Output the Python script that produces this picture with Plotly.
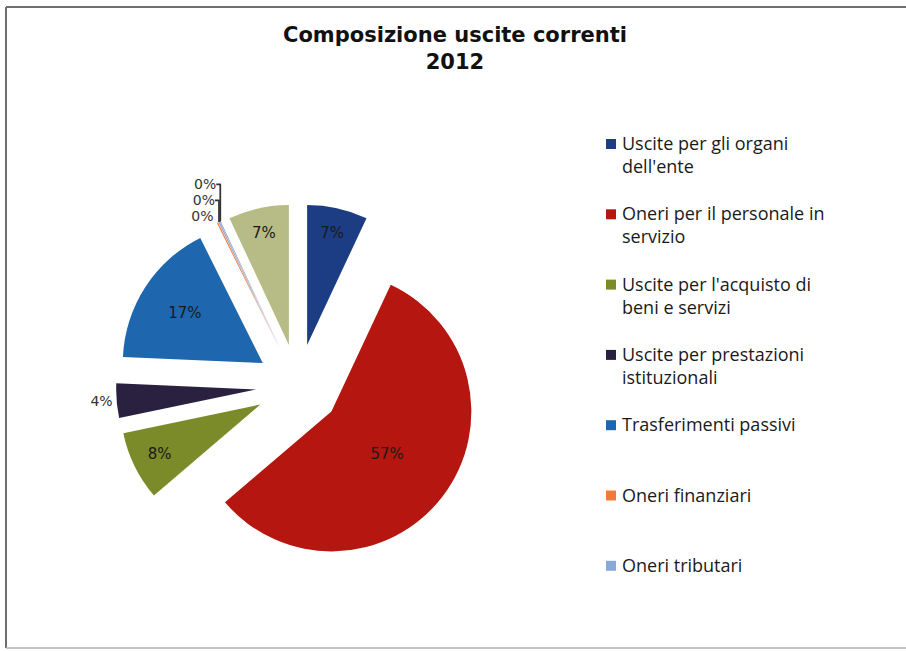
import plotly.graph_objects as go

# ---------------- data ----------------
CATEGORIES = [
    "Uscite per gli organi dell'ente",
    "Oneri per il personale in servizio",
    "Uscite per l'acquisto di beni e servizi",
    "Uscite per prestazioni istituzionali",
    "Trasferimenti passivi",
    "Oneri finanziari",
    "Oneri tributari",
    "Poste correttive e compensative di entrate correnti",
    "Uscite non classificabili in altre voci",
]
VALUES = [7.0, 57.0, 8.0, 4.0, 17.0, 0.15, 0.15, 0.1, 7.0]
COLORS = ["#1c3d84", "#b5160f", "#7b8b2a", "#2a2140", "#1e66ad",
          "#f07c3a", "#86a9d9", "#9d92b8", "#b7bb86"]
TEXT_POS = ["inside", "inside", "inside", "outside", "inside",
            "outside", "outside", "outside", "inside"]
LEGEND_LABELS = [
    "Uscite per gli organi<br>dell'ente",
    "Oneri per il personale in<br>servizio",
    "Uscite per l'acquisto di<br>beni e servizi",
    "Uscite per prestazioni<br>istituzionali",
    "Trasferimenti passivi",
    "Oneri finanziari",
    "Oneri tributari",
]
TITLE = "Composizione uscite correnti<br>2012"

W, H = 906, 651

fig = go.Figure(go.Pie(
    labels=CATEGORIES,
    values=VALUES,
    sort=False,
    direction="clockwise",
    rotation=0,
    pull=[0.3] * len(VALUES),
    marker=dict(colors=COLORS, line=dict(width=0)),
    textinfo="percent",
    texttemplate="%{percent:.0%}",
    textposition=TEXT_POS,
    insidetextorientation="horizontal",
    insidetextfont=dict(family="DejaVu Sans", size=15, color="#1a1a1a"),
    outsidetextfont=dict(family="DejaVu Sans", size=14, color="#333333"),
    domain=dict(x=[0.1280, 0.5298], y=[0.1276, 0.6866]),
    showlegend=False,
    hoverinfo="label+percent",
))

# manual legend (only the visible entries)
LEG_TOP = 143
LEG_STEP = 70.3
shapes = []
annotations = []
for i, lab in enumerate(LEGEND_LABELS):
    cy = LEG_TOP + i * LEG_STEP
    shapes.append(dict(type="rect", xref="paper", yref="paper",
                       x0=606 / W, x1=616 / W,
                       y0=1 - (cy + 6) / H, y1=1 - (cy - 4) / H,
                       fillcolor=COLORS[i], line=dict(width=0)))
    annotations.append(dict(xref="paper", yref="paper",
                            x=620 / W, y=1 - (cy - 14) / H,
                            xanchor="left", yanchor="top", align="left",
                            text=lab, showarrow=False,
                            font=dict(family="Open Sans", size=18, color="#1a1a1a")))

# title
annotations.append(dict(xref="paper", yref="paper", x=455 / W, y=1 - 21 / H,
                        xanchor="center", yanchor="top", align="center",
                        text="<b>" + TITLE + "</b>", showarrow=False,
                        font=dict(family="DejaVu Sans", size=21, color="#111111")))

# frame
shapes += [
    dict(type="line", xref="paper", yref="paper", x0=6 / W, x1=1.0, y0=1 - 7 / H, y1=1 - 7 / H,
         line=dict(color="#6e6e6e", width=2)),
    dict(type="line", xref="paper", yref="paper", x0=6 / W, x1=6 / W, y0=1 - 7 / H, y1=1 - 648 / H,
         line=dict(color="#6e6e6e", width=2)),
    dict(type="line", xref="paper", yref="paper", x0=6 / W, x1=1.0, y0=1 - 648 / H, y1=1 - 648 / H,
         line=dict(color="#b0b0b0", width=1.5)),
]

fig.update_layout(
    width=W, height=H,
    margin=dict(l=0, r=0, t=0, b=0),
    paper_bgcolor="white",
    plot_bgcolor="white",
    shapes=shapes,
    annotations=annotations,
)

fig.write_html("out.html", config={"displayModeBar": False},
               post_script="document.body.style.margin='0';")
